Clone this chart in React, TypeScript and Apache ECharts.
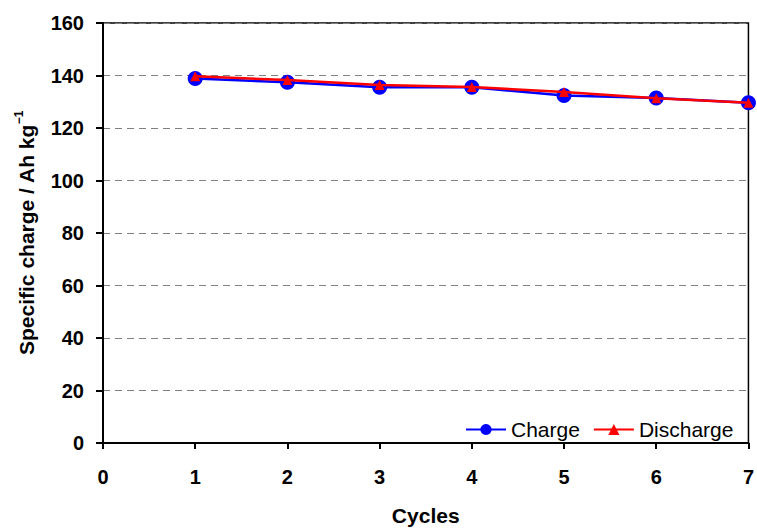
import React, { useEffect, useRef } from "react";
import * as echarts from "echarts";

const cycles = [1, 2, 3, 4, 5, 6, 7];
const chargeValues = [138.9, 137.4, 135.5, 135.5, 132.4, 131.4, 129.6];
const dischargeValues = [139.7, 138.3, 136.4, 135.6, 133.7, 131.3, 129.6];
const seriesNames = ["Charge", "Discharge"];

export default function App() {
  const ref = useRef<HTMLDivElement>(null);
  useEffect(() => {
    if (!ref.current) return;
    document.body.style.margin = "0";
    document.documentElement.style.overflow = "hidden";
    const chart = echarts.init(ref.current, null, { renderer: "svg" });
    const font = "'Liberation Sans', Arial, sans-serif";
    chart.setOption({
      animation: false,
      backgroundColor: "#fff",
      textStyle: { fontFamily: font },
      grid: {
        left: 103,
        right: 7,
        top: 23,
        bottom: 81,
        show: true,
        borderColor: "#000",
        borderWidth: 1.5,
        backgroundColor: "transparent",
      },
      legend: {
        left: 460,
        top: 414,
        itemWidth: 40,
        itemHeight: 14,
        itemGap: 13,
        textStyle: { fontFamily: font, fontSize: 21, color: "#000" },
        data: seriesNames,
      },
      xAxis: {
        type: "value",
        min: 0,
        max: 7,
        interval: 1,
        name: "Cycles",
        nameLocation: "middle",
        nameGap: 62,
        nameTextStyle: { fontFamily: font, fontSize: 21, fontWeight: "bold", color: "#000" },
        axisLine: { show: true, onZero: false, lineStyle: { color: "#000", width: 2 } },
        axisTick: { show: true, length: 6, lineStyle: { color: "#000", width: 2 } },
        axisLabel: { fontFamily: font, fontSize: 20, fontWeight: "bold", color: "#000", margin: 24 },
        splitLine: { show: false },
      },
      yAxis: {
        type: "value",
        min: 0,
        max: 160,
        interval: 20,
        name: "{a|Specific charge / Ah kg}{s|−1}",
        nameLocation: "middle",
        nameGap: 66,
        nameTextStyle: {
          fontFamily: font,
          fontSize: 21,
          fontWeight: "bold",
          color: "#000",
          rich: {
            a: { fontFamily: font, fontSize: 21, fontWeight: "bold", color: "#000", lineHeight: 24, verticalAlign: "bottom" },
            s: { fontFamily: font, fontSize: 12, fontWeight: "bold", color: "#000", lineHeight: 24, verticalAlign: "top" },
          },
        },
        axisLine: { show: true, lineStyle: { color: "#000", width: 2 } },
        axisTick: { show: true, length: 7, lineStyle: { color: "#000", width: 2 } },
        axisLabel: { fontFamily: font, fontSize: 20, fontWeight: "bold", color: "#000", margin: 19 },
        splitLine: { show: true, lineStyle: { color: "#808080", type: [7, 5], width: 1 } },
      },
      series: [
        {
          name: seriesNames[0],
          type: "line",
          data: cycles.map((c, i) => [c, chargeValues[i]]),
          symbol: "circle",
          symbolSize: 15,
          itemStyle: { color: "#0000ff" },
          lineStyle: { color: "#0000ff", width: 2.5 },
          z: 2,
        },
        {
          name: seriesNames[1],
          type: "line",
          data: cycles.map((c, i) => [c, dischargeValues[i]]),
          symbol: "triangle",
          symbolSize: 10,
          itemStyle: { color: "#ff0000" },
          lineStyle: { color: "#ff0000", width: 2.5 },
          z: 3,
        },
      ],
    });
    return () => chart.dispose();
  }, []);
  return <div ref={ref} style={{ width: 757, height: 531 }} />;
}
